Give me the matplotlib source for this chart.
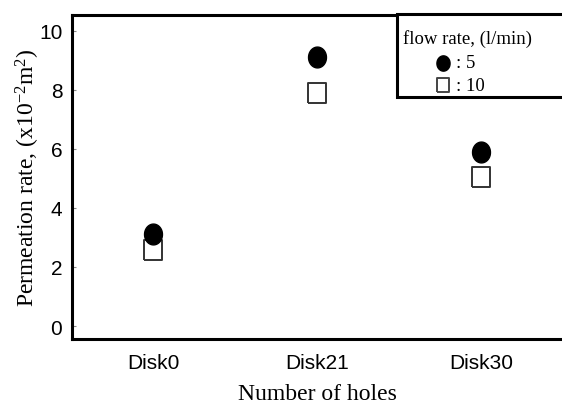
import numpy as np
import matplotlib.pyplot as plt
from matplotlib.patches import Rectangle

disks = ['Disk0', 'Disk21', 'Disk30']
rate_5 = [3.12, 9.12, 5.9]
rate_10 = [2.58, 7.9, 5.05]
yticks = [0, 2, 4, 6, 8, 10]

serif = ['Liberation Serif', 'DejaVu Serif']
sans = ['Liberation Sans', 'DejaVu Sans']
plt.rcParams['mathtext.fontset'] = 'custom'
plt.rcParams['mathtext.rm'] = 'Liberation Serif'
plt.rcParams['mathtext.it'] = 'Liberation Serif:italic'

# the original figure looks a bit stretched upward, so the markers are taller than wide
t = np.linspace(0, 2 * np.pi, 60)
oval = list(zip(0.86 * np.cos(t), np.sin(t)))
box = [(-0.86, -1), (0.86, -1), (0.86, 1), (-0.86, 1), (-0.86, -1)]

fig = plt.figure(figsize=(5.62, 4.06), dpi=100)
ax = fig.add_axes([0.1281, 0.1626, 0.872, 0.798])

x = list(range(len(disks)))
ax.plot(x, rate_5, marker=oval, color='black', markersize=15, linestyle='none', zorder=3)
ax.plot(x, rate_10, marker=box, markerfacecolor='white', markeredgecolor='#333333',
        markeredgewidth=1.4, markersize=15, linestyle='none', zorder=2)

ax.set_xlim(-0.494, 2.494)
ax.set_ylim(-0.44, 10.54)
ax.set_xticks(x)
ax.set_xticklabels(disks, family=sans, fontsize=15)
ax.set_yticks(yticks)
ax.set_yticklabels([str(v) for v in yticks], family=sans, fontsize=15)
ax.tick_params(axis='x', length=0, pad=10)
ax.tick_params(axis='y', direction='in', length=3, width=0.8, color='#888888', pad=7)

for side in ['left', 'top', 'bottom']:
    ax.spines[side].set_linewidth(2.2)
ax.spines['right'].set_visible(False)

ax.set_xlabel('Number of holes', family=serif, fontsize=17, labelpad=8)
ax.set_ylabel('Permeation rate, (x10$^{\\mathrm{-2}}$m$^{2}$)', family=serif, fontsize=17,
              labelpad=-2)

# legend box, cut off by the right edge like in the original
fig.patches.append(Rectangle((0.7064, 0.7586), 0.32, 0.2044, transform=fig.transFigure,
                             facecolor='white', edgecolor='black', linewidth=2.2, zorder=5))
fig.text(0.717, 0.904, 'flow rate, (l/min)', family=serif, fontsize=13.5,
         va='center', ha='left', zorder=6)
fig.lines.append(plt.Line2D([0.788], [0.843], marker=oval, color='black', markersize=11,
                            linestyle='none', transform=fig.transFigure, zorder=6))
fig.lines.append(plt.Line2D([0.788], [0.788], marker=box, markerfacecolor='white',
                            markeredgecolor='#444444', markeredgewidth=1.4, markersize=10,
                            linestyle='none', transform=fig.transFigure, zorder=6))
fig.text(0.812, 0.843, ': 5', family=serif, fontsize=13.5, va='center', ha='left', zorder=6)
fig.text(0.812, 0.788, ': 10', family=serif, fontsize=13.5, va='center', ha='left', zorder=6)

fig.savefig('out.png', dpi=100)
